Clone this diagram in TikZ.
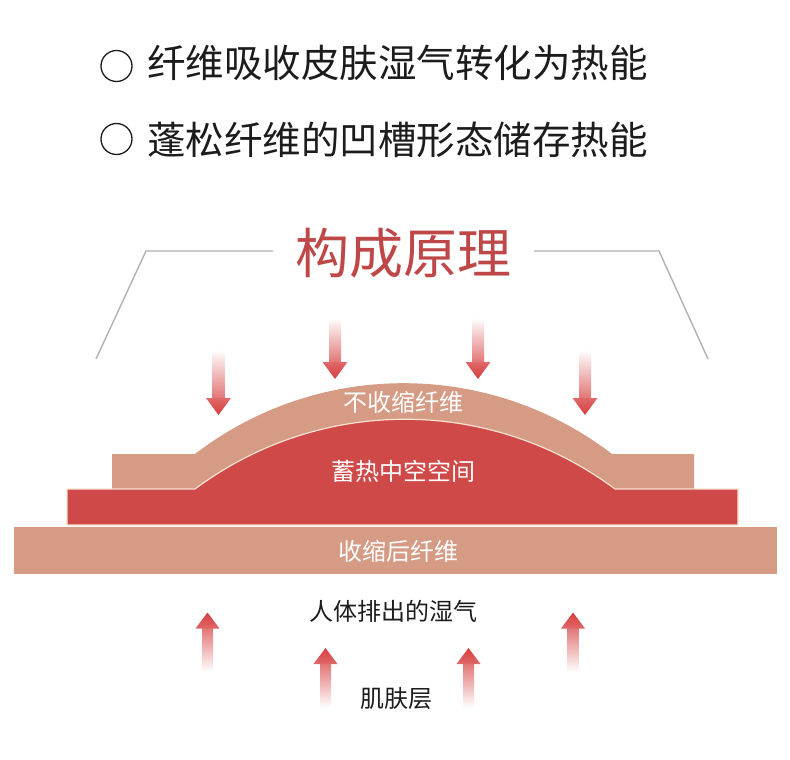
\documentclass[tikz,border=0pt]{standalone}
\usepackage{fontspec}
\newfontfamily\cjk{Noto Sans CJK SC}
\definecolor{tanc}{RGB}{213,155,132}
\definecolor{redc}{RGB}{208,73,73}
\definecolor{arrowred}{RGB}{214,62,62}
\definecolor{titlec}{RGB}{190,72,72}
\definecolor{creamc}{RGB}{248,226,210}
\definecolor{greyc}{RGB}{178,178,178}
\definecolor{textc}{RGB}{28,28,28}
\newcommand\mydownarrow[3]{% x, ytop, ytip
  \shade[top color=white, bottom color=arrowred!72] ({#1-6},#2) rectangle ({#1+6},{#3-16});
  \shade[top color=arrowred!78, bottom color=arrowred] ({#1-12.5},{#3-17}) -- ({#1+12.5},{#3-17}) -- (#1,#3) -- cycle;
}
\newcommand\myuparrow[3]{% x, ytip, ybottom
  \shade[top color=arrowred!72, bottom color=white] ({#1-5.5},{#2+15}) rectangle ({#1+5.5},#3);
  \shade[top color=arrowred, bottom color=arrowred!78] ({#1-12},{#2+16}) -- ({#1+12},{#2+16}) -- (#1,#2) -- cycle;
}
\tikzset{
  bullet/.style={circle, draw=textc, line width=1.3pt, minimum size=31pt, inner sep=0pt},
  headline/.style={anchor=west, font=\cjk\fontsize{38.5}{40}\selectfont, text=textc, inner sep=0pt},
  layertext/.style={font=\cjk\fontsize{24}{24}\selectfont, text=white, inner sep=0pt},
  darktext/.style={font=\cjk\fontsize{24}{24}\selectfont, text=textc, inner sep=0pt},
  frameline/.style={draw=greyc, line width=1.4pt},
}
\begin{document}
\begin{tikzpicture}[x=1pt,y=-1pt]
\fill[white] (0,0) rectangle (790,760);
\useasboundingbox (0,0) rectangle (790,760);

% headlines
\node[bullet] (c1) at (116.5,66) {};
\node[headline] (l1) at (147,63) {纤维吸收皮肤湿气转化为热能};
\node[bullet] (c2) at (116.5,139) {};
\node[headline] (l2) at (147,140) {蓬松纤维的凹槽形态储存热能};

% title with frame lines
\node[font=\cjk\fontsize{54}{54}\selectfont, text=titlec, inner sep=0pt] (title) at (403,253) {构成原理};
\coordinate (fl0) at (96,359);
\coordinate (fl1) at (146,251);
\coordinate (fl2) at (273,251);
\coordinate (fr0) at (534,251);
\coordinate (fr1) at (659,251);
\coordinate (fr2) at (708,359);
\draw[frameline] (fl0) -- (fl1) -- (fl2);
\draw[frameline] (fr0) -- (fr1) -- (fr2);

% down arrows
\mydownarrow{218.5}{350}{415}
\mydownarrow{335}{318}{379}
\mydownarrow{478}{318}{379}
\mydownarrow{585}{350}{415}

% upper fibre layer (arched)
\fill[tanc] (112,454) -- (195,454) .. controls (318,359.6) and (489,359.6) .. (612,454)
  -- (694,454) -- (694,489) -- (615,489) .. controls (490,396) and (320,396) .. (195,489)
  -- (112,489) -- cycle;

% red heat space
\filldraw[fill=redc, draw=creamc, line width=1.2pt] (67,489) -- (195,489)
  .. controls (320,396) and (490,396) .. (615,489) -- (738,489) -- (738,525) -- (67,525) -- cycle;

% bottom fibre layer
\fill[tanc] (14,527) rectangle (777,574);

\node[layertext] (t1) at (403,402) {不收缩纤维};
\node[layertext] (t2) at (403,471) {蓄热中空空间};
\node[layertext] (t3) at (398.5,551) {收缩后纤维};

% up arrows
\myuparrow{207.5}{612.5}{672}
\myuparrow{325.5}{648}{708}
\myuparrow{468.5}{648}{708}
\myuparrow{573}{612.5}{672}

\node[darktext] (t4) at (393,611) {人体排出的湿气};
\node[darktext] (t5) at (396,699) {肌肤层};
\end{tikzpicture}
\end{document}
